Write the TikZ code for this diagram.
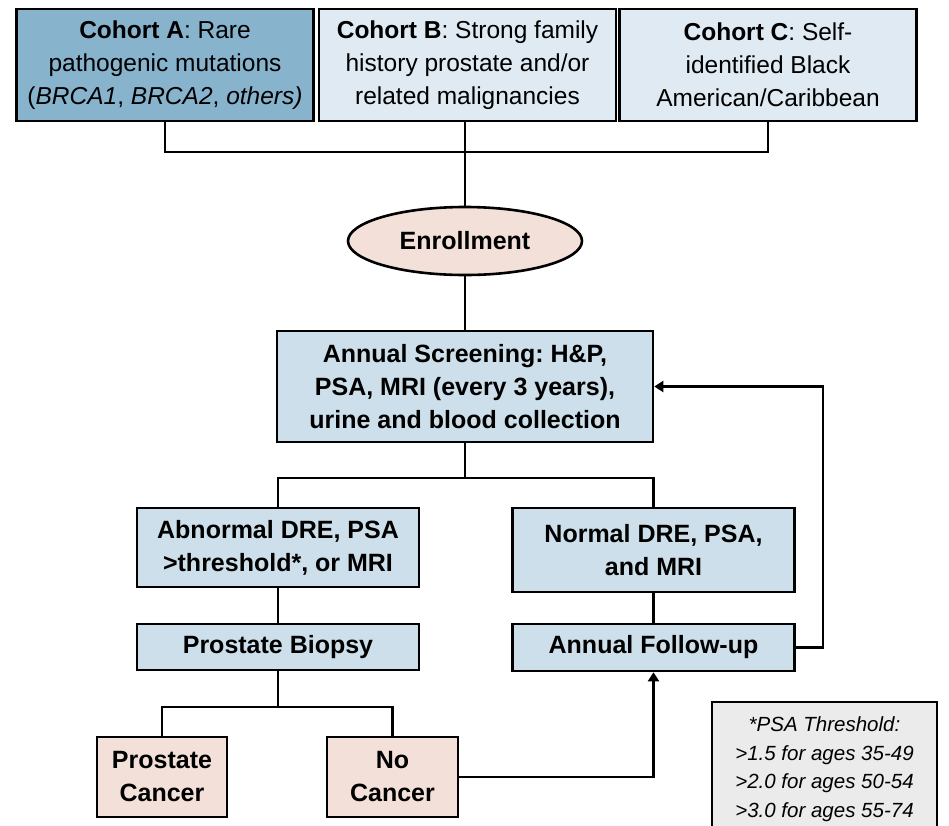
\documentclass[tikz,border=0pt]{standalone}
\usepackage{fontspec}
\setmainfont{Liberation Sans}
\usetikzlibrary{arrows.meta,shapes.geometric}
\definecolor{cohA}{HTML}{87B3CD}
\definecolor{cohB}{HTML}{DFEAF2}
\definecolor{stepblue}{HTML}{CDDFEA}
\definecolor{pinkfill}{HTML}{F2E0D9}
\definecolor{greybox}{HTML}{EBEBEB}
\frenchspacing
\begin{document}
\begin{tikzpicture}[x=1pt,y=-1pt,
  box/.style={draw=black, line width=2.6pt, rectangle, inner sep=0pt, align=center,
    font=\fontsize{25}{33}\selectfont\bfseries\frenchspacing},
  cohort/.style={draw=black, line width=2.6pt, rectangle, inner sep=0pt, align=center,
    minimum width=297pt, minimum height=112pt, font=\fontsize{24.5}{33}\selectfont\frenchspacing},
  conn/.style={draw=black, line width=2.4pt},
  arr/.style={conn, -{Triangle[length=9pt,width=11pt]}}]
\useasboundingbox (0,0) rectangle (949,825);
% cohorts
\node[cohort, fill=cohA] (cA) at (165,65) {\textbf{Cohort A}: Rare\\pathogenic mutations\\(\textit{BRCA1}, \textit{BRCA2}, \textit{others)}};
\node[cohort, fill=cohB] (cB) at (467.5,65) {\textbf{Cohort B}: Strong family\\history prostate and/or\\related malignancies};
\node[cohort, fill=cohB] (cC) at (768,65) {\textbf{Cohort C}: Self-\\identified Black\\American/Caribbean};
% enrollment
\node[ellipse, draw=black, line width=2.6pt, fill=pinkfill, minimum width=234pt, minimum height=68pt, inner sep=0pt,
  font=\fontsize{25}{33}\selectfont\bfseries] (enr) at (465,241) {Enrollment};
% screening
\node[box, fill=stepblue, minimum width=376pt, minimum height=111pt] (screen) at (465,386.5)
  {Annual Screening: H\&P,\\PSA, MRI (every 3 years),\\urine and blood collection};
\node[box, fill=stepblue, minimum width=282pt, minimum height=79pt] (abn) at (278,547.5)
  {Abnormal DRE, PSA\\>threshold*, or MRI};
\node[box, fill=stepblue, minimum width=282pt, minimum height=84pt] (norm) at (653.5,550)
  {Normal DRE, PSA,\\and MRI};
\node[box, fill=stepblue, minimum width=282pt, minimum height=46pt] (biop) at (278,647)
  {Prostate Biopsy};
\node[box, fill=stepblue, minimum width=282pt, minimum height=47pt] (fu) at (653.5,647.5)
  {Annual Follow-up};
\node[box, fill=pinkfill, minimum width=130pt, minimum height=80pt] (pc) at (162,777)
  {Prostate\\Cancer};
\node[box, fill=pinkfill, minimum width=131pt, minimum height=80pt] (nc) at (392.5,777)
  {No\\Cancer};
% threshold note
\node[draw=black, line width=2.6pt, fill=greybox, minimum width=225pt, minimum height=134pt, inner sep=0pt,
  align=center, font=\fontsize{20.5}{28.5}\selectfont\itshape\frenchspacing, text=black] (psa) at (824.5,769)
  {*PSA Threshold:\\>1.5 for ages 35-49\\>2.0 for ages 50-54\\>3.0 for ages 55-74};
% connectors
\coordinate (j1) at (465,152);
\coordinate (j2) at (465,478);
\coordinate (j3) at (278,707);
\coordinate (fb) at (823,500);
\draw[conn] (cA.south) |- (j1) -| (cC.south);
\draw[conn] (enr.north |- cB.south) -- (enr.north);
\draw[conn] (enr.south) -- (screen.north);
\draw[conn] (screen.south) -- (j2);
\draw[conn] (abn.north) |- (j2) -| (norm.north);
\draw[conn] (abn.south) -- (biop.north);
\draw[conn] (norm.south) -- (fu.north);
\draw[conn] (biop.south) -- (j3);
\draw[conn] (pc.north) |- (j3) -| (nc.north);
\draw[arr] (nc.east) -| (fu.south);
\draw[arr] (fu.east) -| (fb) |- (screen.east);
\end{tikzpicture}
\end{document}
